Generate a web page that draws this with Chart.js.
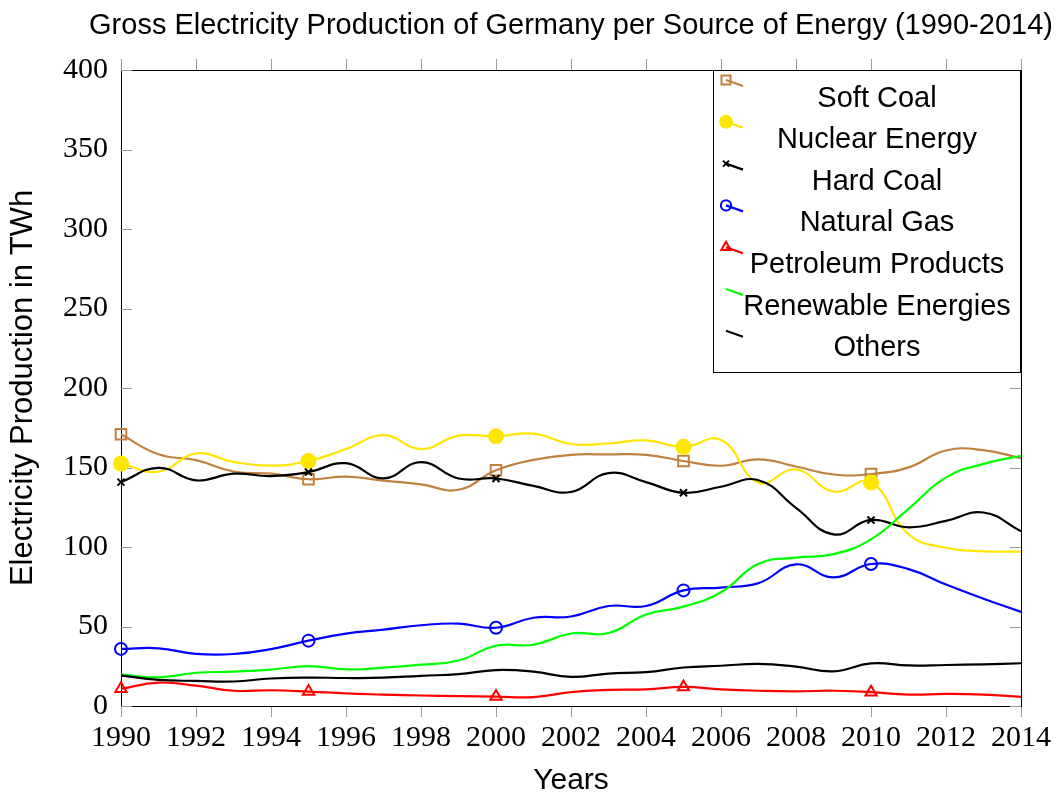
<!DOCTYPE html>
<html>
<head>
<meta charset="utf-8">
<script src="https://cdn.jsdelivr.net/npm/chart.js@4.4.1/dist/chart.umd.min.js"></script>
<style>
  body { margin: 0; background: #fff; }
  #wrap { width: 1064px; height: 796px; }
</style>
</head>
<body>
<div id="wrap"><canvas id="chart" width="1064" height="796"></canvas></div>
<script>
// Gross electricity production in Germany, TWh
const years = [1990, 1991, 1992, 1993, 1994, 1995, 1996, 1997, 1998, 1999, 2000, 2001, 2002,
               2003, 2004, 2005, 2006, 2007, 2008, 2009, 2010, 2011, 2012, 2013, 2014];

const softCoal   = [170.9, 158.3, 154.6, 147.5, 146.1, 142.6, 144.3, 141.7, 139.4, 136.0, 148.3, 154.8, 158.0,
                    158.2, 158.0, 154.1, 151.1, 155.1, 150.6, 145.6, 145.9, 150.1, 160.7, 160.9, 155.8];
const nuclear    = [152.5, 147.4, 158.8, 153.5, 151.2, 154.1, 161.6, 170.3, 161.6, 170.0, 169.6, 171.3, 164.8,
                    165.1, 167.1, 163.0, 167.3, 140.5, 148.8, 134.9, 140.6, 108.0, 99.5, 97.3, 97.1];
const hardCoal   = [140.8, 149.8, 141.9, 146.1, 144.6, 147.1, 152.7, 143.1, 153.4, 143.1, 143.1, 138.4, 134.6,
                    146.5, 140.8, 134.1, 137.9, 142.0, 124.6, 107.9, 117.0, 112.4, 116.4, 121.7, 109.9];
const naturalGas = [35.9, 36.3, 32.8, 32.7, 35.8, 41.1, 45.5, 48.0, 50.8, 51.8, 49.2, 55.5, 56.3,
                    62.9, 62.9, 72.7, 74.5, 77.3, 89.1, 80.9, 89.3, 86.1, 76.4, 67.5, 59.2];
const petroleum  = [10.8, 14.7, 12.8, 9.6, 9.9, 9.1, 7.9, 7.2, 6.6, 6.2, 5.9, 5.6, 8.7,
                    10.1, 10.5, 12.0, 10.5, 9.6, 9.2, 9.6, 8.7, 7.2, 7.6, 7.2, 5.7];
const renewables = [19.7, 18.0, 20.9, 21.6, 22.9, 25.1, 23.0, 24.1, 26.0, 28.6, 37.9, 38.5, 45.6,
                    45.9, 57.5, 62.5, 71.5, 89.4, 93.3, 95.5, 104.8, 124.0, 143.8, 152.3, 157.4];
const others     = [19.3, 16.4, 15.8, 15.4, 17.3, 17.9, 17.6, 17.8, 19.0, 20.0, 22.6, 21.6, 18.3,
                    20.4, 21.3, 24.2, 25.3, 26.5, 24.8, 21.8, 26.8, 25.5, 25.8, 26.2, 26.9];

const seriesNames = ['Soft Coal', 'Nuclear Energy', 'Hard Coal', 'Natural Gas',
                     'Petroleum Products', 'Renewable Energies', 'Others'];
const seriesData = [softCoal, nuclear, hardCoal, naturalGas, petroleum, renewables, others];

const yTicks = [0, 50, 100, 150, 200, 250, 300, 350, 400];

// styles
const colors = ['#bf8040', '#ffe600', '#000000', '#0000ff', '#ff0000', '#00ff00', '#000000'];
const marks = ['rect', 'circle', 'crossRot', 'circle', 'triangle', false, false];
const markSize = [7.5, 7, 5, 6, 6.5, 0, 0];
const markFill = ['rgba(0,0,0,0)', '#ffe600', '#000000', 'rgba(0,0,0,0)', 'rgba(0,0,0,0)', 'rgba(0,0,0,0)', 'rgba(0,0,0,0)'];

const sans = 'Liberation Sans';
const serif = 'Liberation Serif';

const datasets = seriesData.map((vals, i) => ({
    label: seriesNames[i],
    data: vals.map((v, k) => ({ x: years[k], y: v })),
    borderColor: colors[i],
    backgroundColor: markFill[i],
    borderWidth: 2.2,
    tension: 0.45,
    pointStyle: marks[i] || 'circle',
    pointRadius: ctx => (marks[i] && ctx.dataIndex % 5 === 0) ? markSize[i] : 0,
    pointHoverRadius: 0,
    pointBorderWidth: 2,
    pointBorderColor: colors[i],
    pointBackgroundColor: markFill[i],
    order: seriesData.length - i,
    clip: false
}));

// y ticks pointing into the plot, on both sides
const innerTicks = {
    id: 'innerTicks',
    beforeDatasetsDraw(chart) {
        const { ctx, chartArea: a, scales: { y } } = chart;
        ctx.save();
        ctx.strokeStyle = '#999';
        ctx.lineWidth = 1;
        ctx.beginPath();
        y.ticks.forEach(t => {
            const py = Math.round(y.getPixelForValue(t.value)) + 0.5;
            ctx.moveTo(a.left, py); ctx.lineTo(a.left + 11, py);
            ctx.moveTo(a.right - 11, py); ctx.lineTo(a.right, py);
        });
        ctx.stroke();
        ctx.restore();
    }
};

// center the title over the plot area (wide enough so it is not squeezed)
const titleOverPlot = {
    id: 'titleOverPlot',
    afterLayout(chart) {
        const t = chart.titleBlock;
        if (!t) return;
        const mid = (chart.chartArea.left + chart.chartArea.right) / 2;
        t.left = mid - 520;
        t.right = mid + 520;
        t.width = 1040;
    }
};

// boxed legend in the upper right corner
const boxLegend = {
    id: 'boxLegend',
    afterDraw(chart) {
        const { ctx, chartArea: a } = chart;
        const w = 308, h = 303;
        const x0 = a.right - w, y0 = a.top;
        ctx.save();
        ctx.fillStyle = '#fff';
        ctx.fillRect(x0, y0, w, h);
        ctx.strokeStyle = '#000';
        ctx.lineWidth = 1;
        ctx.strokeRect(x0 + 0.5, y0 + 0.5, w - 1, h - 1);
        chart.data.datasets.forEach((ds, i) => {
            const iy = y0 + 10 + i * 41.8;
            const ix = x0 + 13;
            ctx.strokeStyle = colors[i];
            ctx.lineWidth = 2.2;
            ctx.beginPath();
            ctx.moveTo(ix, iy);
            ctx.lineTo(ix + 17, iy + 6);
            ctx.stroke();
            if (marks[i]) {
                ctx.fillStyle = markFill[i];
                ctx.lineWidth = 2;
                Chart.helpers.drawPoint(ctx, {
                    pointStyle: marks[i], radius: markSize[i] * 0.85, rotation: 0, borderWidth: 2
                }, ix, iy);
            }
            ctx.fillStyle = '#000';
            ctx.font = '29px "' + sans + '"';
            ctx.textAlign = 'center';
            ctx.textBaseline = 'middle';
            ctx.fillText(ds.label, x0 + 164, y0 + 28.5 + i * 41.6);
        });
        ctx.restore();
    }
};

new Chart(document.getElementById('chart'), {
    type: 'line',
    data: { datasets },
    plugins: [innerTicks, titleOverPlot, boxLegend],
    options: {
        responsive: false,
        animation: false,
        layout: { padding: 0 },
        plugins: {
            legend: { display: false },
            tooltip: { enabled: false },
            title: {
                display: true,
                text: 'Gross Electricity Production of Germany per Source of Energy (1990-2014)',
                color: '#000',
                font: { family: sans, size: 29, weight: 'normal', lineHeight: 1 },
                padding: { top: 11, bottom: 0 }
            }
        },
        scales: {
            x: {
                type: 'linear',
                position: 'bottom',
                min: years[0],
                max: years[years.length - 1],
                afterFit: s => { s.height = 90; },
                ticks: {
                    stepSize: 2,
                    color: '#000',
                    padding: 6,
                    maxRotation: 0,
                    font: { family: serif, size: 30, lineHeight: 1 },
                    callback: v => String(v)
                },
                grid: { drawOnChartArea: false, drawTicks: true, tickLength: 11, color: '#999' },
                border: { color: '#000', width: 1 },
                title: {
                    display: true,
                    text: 'Years',
                    color: '#000',
                    font: { family: sans, size: 30, lineHeight: 1 },
                    padding: { top: 0, bottom: 0 }
                }
            },
            x2: {
                type: 'linear',
                position: 'top',
                min: years[0],
                max: years[years.length - 1],
                afterFit: s => { s.height = 30; },
                ticks: { stepSize: 2, display: false },
                grid: { drawOnChartArea: false, drawTicks: true, tickLength: 11, color: '#999' },
                border: { color: '#000', width: 1 }
            },
            y: {
                position: 'left',
                min: yTicks[0],
                max: yTicks[yTicks.length - 1],
                afterFit: s => { s.width = 121; },
                afterBuildTicks: s => { s.ticks = yTicks.map(v => ({ value: v })); },
                ticks: {
                    color: '#000',
                    padding: 13,
                    font: { family: serif, size: 30, lineHeight: 1 },
                    callback: v => String(v)
                },
                grid: { drawOnChartArea: false, drawTicks: false },
                border: { color: '#000', width: 1 },
                title: {
                    display: true,
                    text: 'Electricity Production in TWh',
                    color: '#000',
                    font: { family: sans, size: 31, lineHeight: 1 },
                    padding: { top: 8, bottom: 0 }
                }
            },
            y2: {
                position: 'right',
                min: yTicks[0],
                max: yTicks[yTicks.length - 1],
                afterFit: s => { s.width = 43; },
                ticks: { display: false },
                grid: { drawOnChartArea: false, drawTicks: false },
                border: { color: '#000', width: 1 }
            }
        }
    }
});
</script>
</body>
</html>
